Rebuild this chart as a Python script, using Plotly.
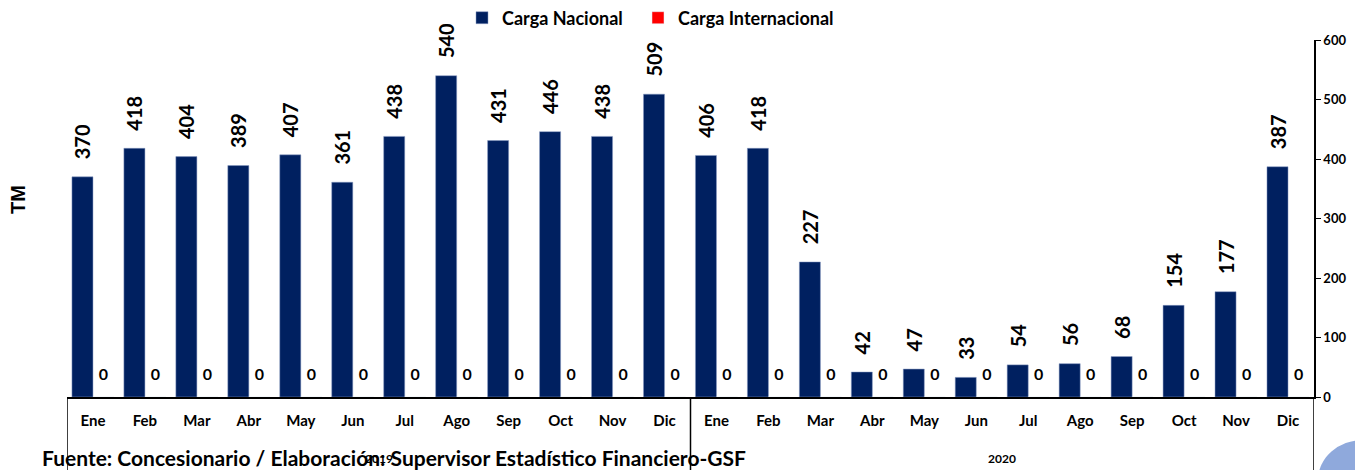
import plotly.graph_objects as go

years = ["2019"] * 12 + ["2020"] * 12
months = ["Ene", "Feb", "Mar", "Abr", "May", "Jun", "Jul", "Ago", "Sep", "Oct", "Nov", "Dic"] * 2
nacional = [370, 418, 404, 389, 407, 361, 438, 540, 431, 446, 438, 509,
            406, 418, 227, 42, 47, 33, 54, 56, 68, 154, 177, 387]
internacional = [0] * 24
y_ticks = [0, 100, 200, 300, 400, 500, 600]
year_labels = ["2019", "2020"]

cats = [m + " " + y for m, y in zip(months, years)]

FONT = "Lato"
OFF = 8  # page body margin offset
W, H = 1363 - OFF, 470 - OFF
ML, MT = 67 - OFF, 40 - OFF
PLOT_R, PLOT_B = 1314 - OFF, 397 - OFF
MR, MB = W - PLOT_R, H - PLOT_B
pw, ph = W - ML - MR, H - MT - MB


def px(x):
    return (x - OFF - ML) / pw


def py(y):
    return (H - MB - (y - OFF)) / ph


fig = go.Figure()
fig.add_trace(go.Bar(
    x=cats, y=nacional, name="Carga Nacional", legend="legend",
    marker=dict(color="#002060", line=dict(color="#8a9cc4", width=0.5)),
    text=["\u00a0\u00a0\u00a0" + str(v) for v in nacional],
    textposition="outside", textangle=-90, constraintext="none",
    textfont=dict(family=FONT, size=20, color="black", weight="bold"),
    cliponaxis=False,
))
fig.add_trace(go.Bar(
    x=cats, y=internacional, name="Carga Internacional", legend="legend2",
    marker=dict(color="#ff0000"),
    text=["<span style='font-size:16px'>" + str(v) + "</span><br> " for v in internacional],
    textposition="outside", textangle=0, constraintext="none",
    textfont=dict(family=FONT, size=9, color="black", weight="bold"),
    cliponaxis=False,
))

n = len(cats)
group_edges = [-0.5, 11.5, n - 0.5]
group_centers = [5.5, 17.5]

legend_common = dict(orientation="h", xref="container", yref="container",
                     xanchor="left", yanchor="middle", y=1 - 10 / H,
                     font=dict(family=FONT, size=18, color="black", weight="bold"),
                     itemwidth=30, bgcolor="rgba(0,0,0,0)")

fig.update_layout(
    width=W, height=H,
    margin=dict(l=ML, r=MR, t=MT, b=MB, autoexpand=False),
    plot_bgcolor="white", paper_bgcolor="white",
    barmode="group", bargap=0.19, bargroupgap=0,
    font=dict(family=FONT, color="black"),
    showlegend=True,
    legend=dict(x=454 / W, **legend_common),
    legend2=dict(x=630 / W, **legend_common),
    xaxis=dict(
        type="category", categoryorder="array", categoryarray=cats,
        tickvals=cats, ticktext=months, range=[-0.5, n - 0.5],
        automargin=False,
        showline=True, linecolor="black", linewidth=1.5,
        tickfont=dict(family=FONT, size=15, color="black", weight="bold"),
        ticklabelstandoff=9,
        ticks="", showgrid=False,
    ),
    yaxis=dict(
        automargin=False,
        side="right", range=[0, 600], tickvals=y_ticks,
        showline=True, linecolor="black", linewidth=1.5,
        ticks="outside", ticklen=5, tickcolor="black",
        tickfont=dict(family=FONT, size=13, color="black", weight="bold"),
        showgrid=False, zeroline=False,
    ),
)

annotations = [
    dict(text="TM", x=px(18), y=py(200), xref="paper", yref="paper", showarrow=False,
         textangle=-90, xanchor="center", yanchor="middle",
         font=dict(family="Liberation Sans", size=20, color="black", weight="bold")),
    dict(text="Fuente: Concesionario / Elaboración: Supervisor Estadístico Financiero-GSF",
         x=px(40), y=py(457), xref="paper", yref="paper", showarrow=False,
         xanchor="left", yanchor="middle",
         font=dict(family=FONT, size=21, color="black", weight="bold")),
]
for xc, lab in zip(group_centers, year_labels):
    annotations.append(dict(text=lab, x=xc, y=py(458), xref="x", yref="paper",
                            showarrow=False, xanchor="center", yanchor="middle",
                            font=dict(family=FONT, size=12, color="black", weight="bold")))
fig.update_layout(annotations=annotations)

for xe in group_edges:
    fig.add_shape(type="line", xref="x", yref="paper", x0=xe, x1=xe, y0=0, y1=py(472),
                  line=dict(color="black", width=1.5), layer="above")

fig.add_shape(type="circle", xref="paper", yref="paper",
              x0=px(1318), x1=px(1408), y0=py(520), y1=py(440),
              fillcolor="#8fa9dc", line=dict(width=0), layer="above")

fig.write_html("out.html")
